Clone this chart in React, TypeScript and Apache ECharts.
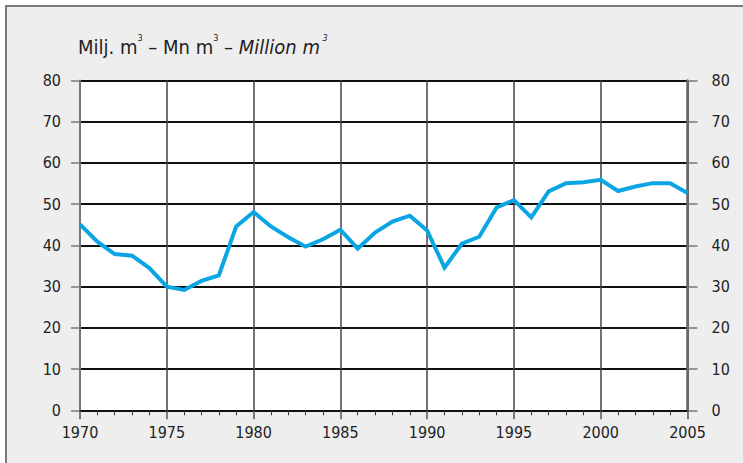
import React, { useEffect, useRef } from 'react';
import * as echarts from 'echarts';

const years = [
  1970, 1971, 1972, 1973, 1974, 1975, 1976, 1977, 1978, 1979,
  1980, 1981, 1982, 1983, 1984, 1985, 1986, 1987, 1988, 1989,
  1990, 1991, 1992, 1993, 1994, 1995, 1996, 1997, 1998, 1999,
  2000, 2001, 2002, 2003, 2004, 2005,
];
const values = [
  45.1, 40.9, 37.9, 37.5, 34.5, 30.0, 29.2, 31.4, 32.7, 44.6,
  48.1, 44.6, 42.0, 39.7, 41.5, 43.8, 39.2, 43.1, 45.8, 47.2,
  43.6, 34.6, 40.4, 42.1, 49.2, 51.0, 46.8, 53.1, 55.1, 55.3,
  55.9, 53.2, 54.3, 55.1, 55.1, 52.7,
];
const yMin = 0;
const yMax = 80;
const yStep = 10;
const xMin = 1970;
const xMax = 2005;
const xStep = 5;

const FONT = "'Liberation Sans Narrow', 'DejaVu Sans Condensed', 'Arial Narrow', sans-serif";

export default function App() {
  const ref = useRef<HTMLDivElement>(null);
  useEffect(() => {
    if (!ref.current) return;
    const chart = echarts.init(ref.current, undefined, { renderer: 'svg' });
    const labelStyle = { color: '#222', fontSize: 16, fontFamily: FONT };
    chart.setOption({
      animation: false,
      backgroundColor: '#ffffff',
      graphic: [
        {
          type: 'rect',
          z: -10,
          shape: { x: 6, y: 6, width: 800, height: 500 },
          style: { fill: '#eeeeee', stroke: '#7a7a7a', lineWidth: 2 },
        },
        {
          type: 'text',
          x: 78,
          y: 45,
          style: {
            text: '{a|Milj. m}{s|3}{a| – Mn m}{s|3}{a| – }{i|Million m}{si| 3}',
            verticalAlign: 'middle',
            rich: {
              a: { fontSize: 20, fontFamily: FONT, fill: '#222', lineHeight: 24, verticalAlign: 'bottom' },
              i: { fontSize: 20, fontFamily: FONT, fontStyle: 'italic', fill: '#222', lineHeight: 24, verticalAlign: 'bottom' },
              s: { fontSize: 9, fontFamily: FONT, fill: '#222', lineHeight: 24, verticalAlign: 'top' },
              si: { fontSize: 9, fontFamily: FONT, fontStyle: 'italic', fill: '#222', lineHeight: 24, verticalAlign: 'top' },
            },
          },
        },
      ],
      grid: {
        left: 80,
        right: 55.5,
        top: 80.5,
        bottom: 52.7,
        show: true,
        backgroundColor: '#ffffff',
        borderWidth: 0,
      },
      xAxis: {
        type: 'value',
        min: xMin,
        max: xMax,
        interval: xStep,
        axisLine: { show: true, lineStyle: { color: '#111', width: 2 } },
        axisTick: { show: true, length: 9, lineStyle: { color: '#555', width: 1.5 } },
        minorTick: { show: true, splitNumber: 5, length: 5, lineStyle: { color: '#333', width: 1 } },
        splitLine: { show: true, lineStyle: { color: '#444', width: 1.5 } },
        axisLabel: { ...labelStyle, margin: 14, formatter: (v: number) => String(v) },
      },
      yAxis: [
        {
          type: 'value',
          position: 'left',
          min: yMin,
          max: yMax,
          interval: yStep,
          axisLine: { show: true, lineStyle: { color: '#777', width: 2 } },
          axisTick: { show: true, length: 9, lineStyle: { color: '#777', width: 1.5 } },
          splitLine: { show: true, lineStyle: { color: '#111', width: 2 } },
          axisLabel: { ...labelStyle, margin: 19 },
        },
        {
          type: 'value',
          position: 'right',
          min: yMin,
          max: yMax,
          interval: yStep,
          axisLine: { show: true, lineStyle: { color: '#666', width: 2.5 } },
          axisTick: { show: true, length: 10, lineStyle: { color: '#777', width: 1.5 } },
          splitLine: { show: false },
          axisLabel: { ...labelStyle, margin: 24 },
        },
      ],
      series: [
        {
          type: 'line',
          data: years.map((y, i) => [y, values[i]]),
          symbol: 'none',
          lineStyle: { color: '#0aa6e4', width: 4, join: 'miter' },
          z: 5,
        },
      ],
    });
    return () => chart.dispose();
  }, []);
  return (
    <div
      ref={ref}
      style={{ position: 'absolute', left: 0, top: 0, width: 743, height: 463 }}
    />
  );
}
